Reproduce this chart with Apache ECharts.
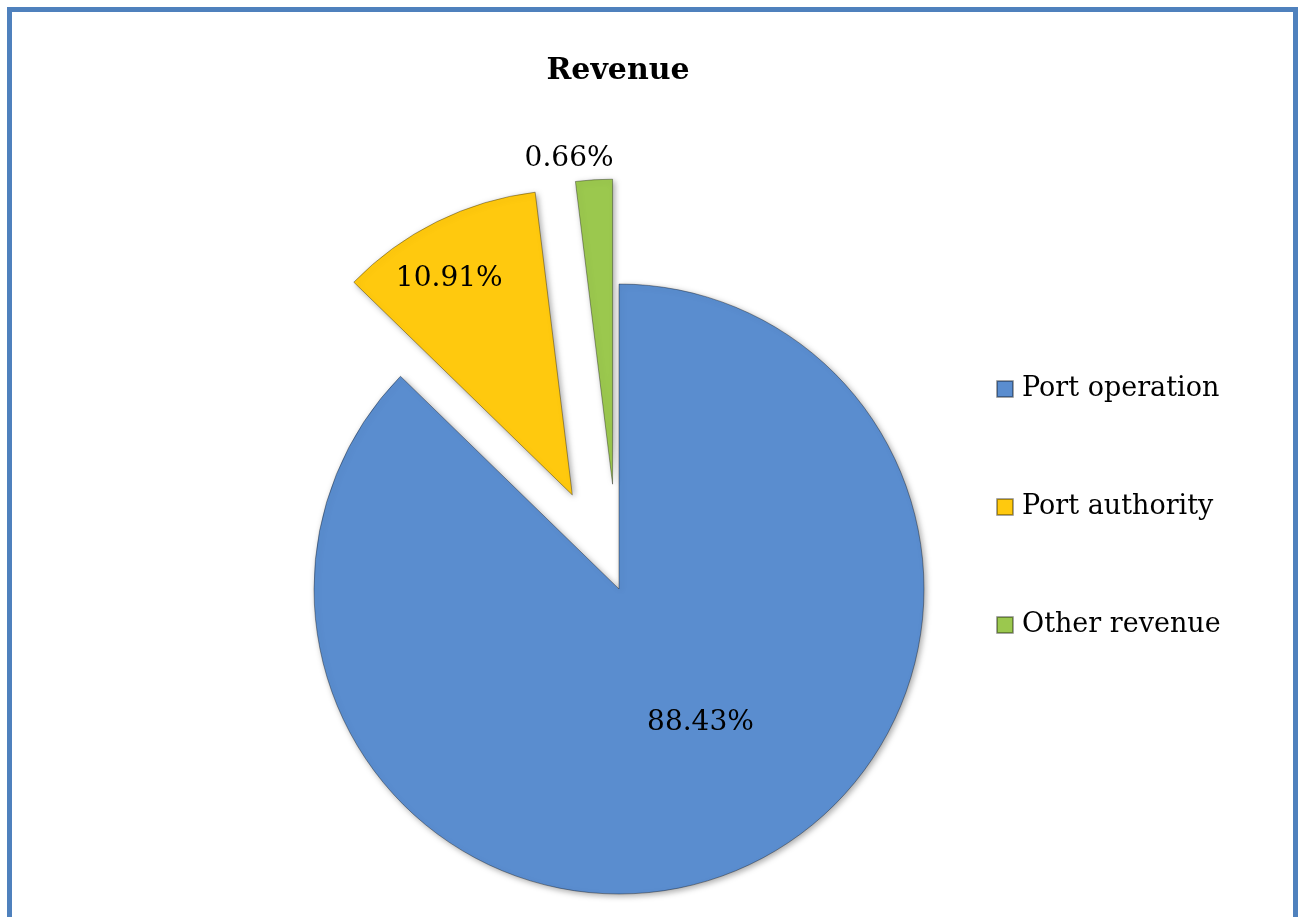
<!DOCTYPE html>
<html>
<head>
<meta charset="utf-8">
<title>Revenue</title>
<script src="https://cdn.jsdelivr.net/npm/echarts@6/dist/echarts.min.js"></script>
<style>
  html, body { margin: 0; padding: 0; background: #fff; }
  #frame {
    position: absolute; left: 7px; top: 7px;
    width: 1281px; height: 1000px;
    border: 5px solid #4f81bd;
  }
  #chart { position: absolute; left: 0; top: 0; width: 1302px; height: 917px; }
</style>
</head>
<body>
<div id="frame"></div>
<div id="chart"></div>
<script>
var categories = ['Port operation', 'Port authority', 'Other revenue'];
var shares = [88.43, 10.91, 0.66];
var exploded = [false, true, true];
var colors = ['#5a8dcf', '#ffc90e', '#9bc84e'];

var myChart = echarts.init(document.getElementById('chart'));

var pieData = categories.map(function (name, i) {
    return {
        name: name,
        value: shares[i],
        selected: exploded[i],
        itemStyle: { color: colors[i] }
    };
});

var option = {
    animation: false,
    title: {
        text: 'Revenue',
        left: 613,
        top: 51,
        textAlign: 'center',
        textStyle: {
            fontFamily: 'DejaVu Serif',
            fontWeight: 'bold',
            fontSize: 30,
            color: '#000'
        }
    },
    legend: {
        orient: 'vertical',
        left: 991,
        top: 369,
        icon: 'rect',
        itemWidth: 16,
        itemHeight: 16,
        itemGap: 88,
        selectedMode: false,
        data: categories,
        textStyle: {
            fontFamily: 'DejaVu Serif',
            fontSize: 27,
            lineHeight: 30,
            padding: [0, 0, 0, 4],
            color: '#000'
        }
    },
    series: [{
        type: 'pie',
        center: [619, 589],
        radius: 305,
        startAngle: 90,
        clockwise: true,
        minAngle: 7,
        selectedMode: 'multiple',
        selectedOffset: 105,
        avoidLabelOverlap: false,
        emphasis: { disabled: true },
        itemStyle: {
            borderColor: 'rgba(0,0,0,0.35)',
            borderWidth: 1,
            shadowBlur: 6,
            shadowOffsetX: 2,
            shadowOffsetY: 2,
            shadowColor: 'rgba(0,0,0,0.35)'
        },
        label: {
            show: true,
            position: 'inside',
            formatter: function (p) { return p.value.toFixed(2) + '%'; },
            fontFamily: 'DejaVu Serif',
            fontSize: 28,
            color: '#000'
        },
        labelLine: { show: false },
        labelLayout: function (p) {
            // nudge labels to where the original sits
            if (p.dataIndex === 0) return { dx: 21, dy: -10 };
            if (p.dataIndex === 1) return { dx: -54, dy: -77 };
            if (p.dataIndex === 2) return { dx: -34, dy: -170 };
            return {};
        },
        data: pieData
    }]
};

myChart.setOption(option);
</script>
</body>
</html>
